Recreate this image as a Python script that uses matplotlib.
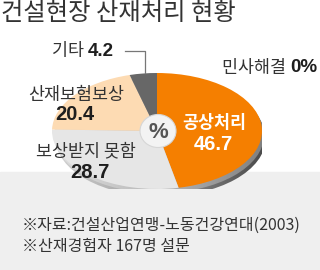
import matplotlib
matplotlib.use("Agg")
import matplotlib.pyplot as plt
import numpy as np
from matplotlib.patches import Ellipse, Rectangle
from matplotlib.colors import LinearSegmentedColormap

plt.rcParams['font.family'] = ['Noto Sans CJK KR', 'DejaVu Sans']

# data
labels = ['공상처리', '보상받지 못함', '산재보험보상', '기타', '민사해결']
values = [46.7, 28.7, 20.4, 4.2, 0]
colors = ['#f57f00', '#e6e6e6', '#fddbb3', '#676767', '#ffffff']
title = '건설현장 산재처리 현황'
notes = ['※자료:건설산업연맹-노동건강연대(2003)', '※산재경험자 167명 설문']

W, H = 320, 270
fig = plt.figure(figsize=(W / 100, H / 100), dpi=100)

def px_axes(z):
    a = fig.add_axes([0, 0, 1, 1], zorder=z)
    a.set_xlim(0, W)
    a.set_ylim(H, 0)
    a.axis('off')
    a.patch.set_alpha(0)
    return a

bg = px_axes(0)
bg.add_patch(Rectangle((0, 172), W, H - 172, color='#efefef', zorder=0))

# pie drawn as an ellipse in its own axes
cx, cy, rx, ry = 157, 131, 105, 58
pax = fig.add_axes([(cx - rx) / W, 1 - (cy + ry) / H, 2 * rx / W, 2 * ry / H], zorder=1)
pax.axis('off')
pax.patch.set_alpha(0)

# side rim with a left-light / right-dark shading
grad = np.tile(np.linspace(0, 1, 200), (20, 1))
rims = [((0.035, -0.13), ['#d9d9d9', '#9a9a9a', '#444444']),
        ((0.02, -0.07), ['#e4e4e4', '#b8b8b8', '#7c7c7c'])]
for k, (off, cl) in enumerate(rims):
    e = Ellipse(off, 2.0, 2.0, facecolor='none', edgecolor='none')
    pax.add_patch(e)
    im = pax.imshow(grad, extent=(-1.1, 1.1, -1.2, 1.0), aspect='auto',
                    cmap=LinearSegmentedColormap.from_list('rim%d' % k, cl),
                    zorder=k)
    im.set_clip_path(e)

v = [x for x in values if x > 0]
c = [colors[i] for i, x in enumerate(values) if x > 0]
wedges, _ = pax.pie(v, colors=c, startangle=90, counterclock=False, radius=1,
                    wedgeprops=dict(linewidth=0))
for w in wedges:
    w.set_zorder(3)
pax.set_aspect('auto')
pax.set_xlim(-1, 1)
pax.set_ylim(-1, 1)

fg = px_axes(2)

# center % badge
fg.add_patch(Ellipse((cx + 1, cy), 36, 33, facecolor='#f3f3f3', edgecolor='#d6d6d6', lw=0.8))
fg.text(cx + 1, cy + 1, '%', fontsize=16, fontweight='bold', color='#555555',
        ha='center', va='center', family=['Liberation Sans'])

txt = '#333333'
num = '#1e1e1e'
fg.text(1, 13, title, fontsize=17.5, fontweight='medium', color=txt, ha='left', va='center')

def label_num(x, y, lab, val, size=12.5, nsize=13.5):
    t = fg.text(x, y, lab + ' ', fontsize=size, color=txt, ha='left', va='center')
    fg.annotate(val, xy=(1, 0.5), xycoords=t, fontsize=nsize, fontweight='bold',
                color=num, ha='left', va='center', family=['Liberation Sans'])

label_num(52, 51, labels[3], f'{values[3]}')
fg.plot([125, 145, 145], [51, 51, 73], color='#777777', lw=0.9)
label_num(222, 68, labels[4], f'{values[4]:g}%')

fg.text(76, 95, labels[2], fontsize=12.5, color=txt, ha='center', va='center')
fg.text(75, 114, f'{values[2]}', fontsize=14.5, fontweight='bold', color=num,
        ha='center', va='center', family=['Liberation Sans'])

fg.text(214, 123, labels[0], fontsize=12.5, fontweight='bold', color='white',
        ha='center', va='center')
fg.text(213, 145, f'{values[0]}', fontsize=14.5, fontweight='bold', color='white',
        ha='center', va='center', family=['Liberation Sans'])

fg.text(86, 151, labels[1], fontsize=12.5, color=txt, ha='center', va='center')
fg.text(90, 173, f'{values[1]}', fontsize=14.5, fontweight='bold', color=num,
        ha='center', va='center', family=['Liberation Sans'])

fg.text(22, 225, notes[0], fontsize=11.5, color=txt, ha='left', va='center')
fg.text(22, 247, notes[1], fontsize=11.5, color=txt, ha='left', va='center')

fig.savefig('out.png', dpi=100)
